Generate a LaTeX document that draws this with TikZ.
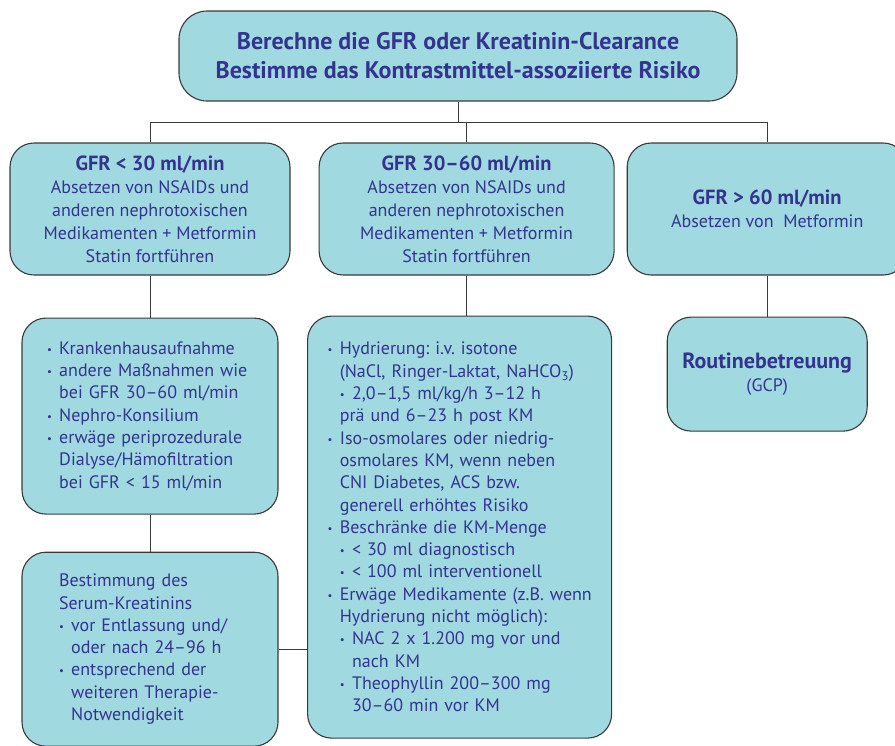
\documentclass[tikz,border=0pt]{standalone}
\usepackage{fontspec}
\setmainfont{PT Sans}
\usetikzlibrary{positioning}
\definecolor{boxFill}{HTML}{A1D9E0}
\definecolor{boxBorder}{HTML}{3A3A3A}
\definecolor{textBlue}{HTML}{34348F}
\definecolor{lineColor}{HTML}{3A3A3A}
\frenchspacing
\newcommand{\bl}{\makebox[0.68em][l]{\raisebox{0.12ex}{\scalebox{0.6}{\textbullet}}}}
\newcommand{\ind}{\hspace*{0.68em}}
\newcommand{\gfrhead}[1]{{\fontsize{20.5}{24}\selectfont\bfseries #1}}
\tikzset{
  headbox/.style={
    draw=boxBorder, fill=boxFill, rounded corners=28pt, line width=1.1pt,
    text=textBlue, align=center, minimum width=558pt, minimum height=90pt,
    font=\fontsize{24}{29}\selectfont\bfseries,
  },
  gfrbox/.style={
    draw=boxBorder, fill=boxFill, rounded corners=24pt, line width=1.1pt,
    text=textBlue, align=center, minimum height=132pt, inner sep=0pt,
    font=\fontsize{18}{23}\selectfont,
  },
  listbox/.style={
    draw=boxBorder, fill=boxFill, rounded corners=24pt, line width=1.1pt,
    text=textBlue, align=left, inner ysep=0pt,
    font=\fontsize{18}{22.3}\selectfont,
  },
  link/.style={draw=lineColor, line width=1pt},
}

\begin{document}
\begin{tikzpicture}[x=1pt, y=-1pt]
  \useasboundingbox (0,0) rectangle (895,745);

  % === Top: calculate GFR and risk ===
  \node[headbox] (top) at (458,56) {Berechne die GFR oder Kreatinin-Clearance\\Bestimme das Kontrastmittel-assoziierte Risiko};

  % === Row of GFR classes ===
  \node[gfrbox, minimum width=280pt] (gfrlow) at (150,209) {\gfrhead{GFR < 30 ml/min}\\Absetzen von NSAIDs und\\anderen nephrotoxischen\\Medikamenten + Metformin\\Statin fortführen};
  \node[gfrbox, minimum width=295pt, right=28pt of gfrlow] (gfrmid) {\gfrhead{GFR 30–60 ml/min}\\Absetzen von NSAIDs und\\anderen nephrotoxischen\\Medikamenten + Metformin\\Statin fortführen};
  \node[gfrbox, minimum width=280pt, right=12pt of gfrmid] (gfrhigh) {\gfrhead{GFR > 60 ml/min}\\Absetzen von\ \ Metformin};

  % === Measures ===
  \node[listbox, text width=206pt, inner xsep=25pt, minimum height=196pt, below=42pt of gfrlow] (admit) {\bl Krankenhausaufnahme\\\bl andere Maßnahmen wie\\\ind bei GFR 30–60 ml/min\\\bl Nephro-Konsilium\\\bl erwäge periprozedurale\\\ind Dialyse/Hämofiltration\\\ind bei GFR < 15 ml/min};
  \node[listbox, text width=182pt, inner xsep=37pt, minimum height=194pt, below=37pt of admit] (serum) {Bestimmung des\\Serum-Kreatinins\\\bl vor Entlassung und/\\\ind oder nach 24–96 h\\\bl entsprechend der\\\ind weiteren Therapie-\\\ind Notwendigkeit};
  \node[listbox, text width=264pt, inner xsep=20pt, minimum height=422pt, below=40pt of gfrmid, xshift=-7pt] (hydr) {\bl Hydrierung: i.v. isotone\\\ind (NaCl, Ringer-Laktat, NaHCO\textsubscript{3})\\\ind\bl 2,0–1,5 ml/kg/h 3–12 h\\\ind prä und 6–23 h post KM\\\bl Iso-osmolares oder niedrig-\\\ind osmolares KM, wenn neben\\\ind CNI Diabetes, ACS bzw.\\\ind generell erhöhtes Risiko\\\bl Beschränke die KM-Menge\\\ind\bl < 30 ml diagnostisch\\\ind\bl < 100 ml interventionell\\\mbox{\bl Erwäge Medikamente (z.B. wenn}\\\ind Hydrierung nicht möglich):\\\ind\bl NAC 2 x 1.200 mg vor und\\\ind\ind nach KM\\\ind\bl Theophyllin 200–300 mg\\\ind\ind 30–60 min vor KM};
  \node[gfrbox, minimum width=200pt, minimum height=114pt, below=41pt of gfrhigh] (routine) {{\fontsize{22}{25}\selectfont\bfseries Routinebetreuung}\\(GCP)};

  % === Connectors ===
  \coordinate (bus) at (458,122);
  \draw[link] (top.south) -- (bus);
  \draw[link] (gfrlow.north) -- (gfrlow.north |- bus) -- (gfrhigh.north |- bus) -- (gfrhigh.north);
  \draw[link] (gfrmid.north) -- (gfrmid.north |- bus);
  \draw[link] (gfrlow.south) -- (admit.north);
  \draw[link] (admit.south) -- (serum.north);
  \draw[link] (gfrmid.south) -- (gfrmid.south |- hydr.north);
  \draw[link] (gfrhigh.south) -- (routine.north);
  \draw[link] (serum.east) -- (serum.east -| hydr.west);

\end{tikzpicture}
\end{document}
